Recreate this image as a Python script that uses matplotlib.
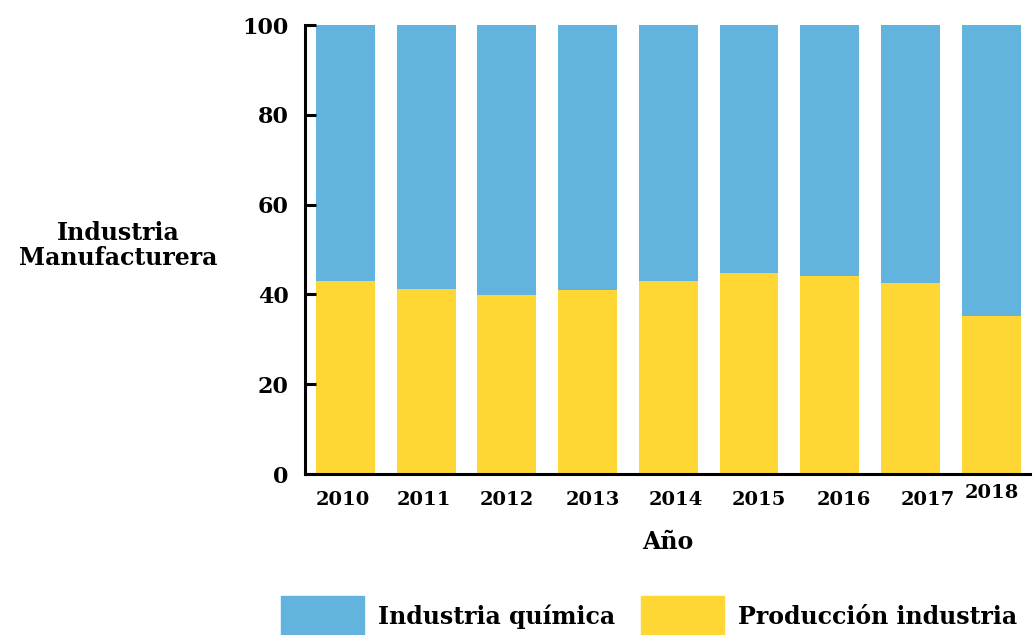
import matplotlib
matplotlib.use("Agg")
import matplotlib.pyplot as plt
import matplotlib.transforms as mtransforms
from matplotlib.patches import Patch

years = ["2010", "2011", "2012", "2013", "2014", "2015", "2016", "2017", "2018"]
produccion = [43.0, 41.2, 39.9, 41.0, 43.0, 44.8, 44.1, 42.5, 35.2]
quimica = [100 - p for p in produccion]

blue = "#62B3DD"
yellow = "#FED734"
font = "DejaVu Serif"

fig = plt.figure(figsize=(10.33, 6.35), dpi=100)
ax = fig.add_axes([0.2953, 0.2535, 0.7017, 0.7071])

x = list(range(len(years)))
ax.bar(x, produccion, width=0.73, color=yellow, label="Producción industria")
ax.bar(x, quimica, bottom=produccion, width=0.73, color=blue, label="Industria química")

ax.set_xlim(-0.5, 8.48)
ax.set_ylim(0, 100)
ax.set_yticks([0, 20, 40, 60, 80, 100])
ax.set_xticks(x)
ax.set_xticklabels(years)
for s in ["top", "right"]:
    ax.spines[s].set_visible(False)
for s in ["left", "bottom"]:
    ax.spines[s].set_linewidth(2.2)
ax.tick_params(axis="y", direction="in", length=8, width=2.2, pad=12)
ax.tick_params(axis="x", length=0, pad=12)
for lab in ax.get_yticklabels():
    lab.set_fontfamily(font)
    lab.set_fontweight("bold")
    lab.set_fontsize(16)
offsets = [(-3, 0), (-2, 0), (0, 0), (5, 0), (8, 0), (10, 0), (14, 0), (17, 0), (1, 7)]
for lab, (dx, dy) in zip(ax.get_xticklabels(), offsets):
    lab.set_fontfamily(font)
    lab.set_fontweight("bold")
    lab.set_fontsize(14)
    lab.set_transform(lab.get_transform() + mtransforms.ScaledTranslation(dx / 100, dy / 100, fig.dpi_scale_trans))

ax.set_xlabel("Año", fontfamily=font, fontweight="bold", fontsize=17, labelpad=15)
fig.text(0.114, 0.614, "Industria\nManufacturera", ha="center", va="center",
         fontfamily=font, fontweight="bold", fontsize=17, linespacing=1.05)

handles = [Patch(color=blue, label="Industria química"),
           Patch(color=yellow, label="Producción industria")]
fig.legend(handles=handles, loc="lower center", bbox_to_anchor=(0.6285, -0.035), ncol=2,
           frameon=False, prop={"family": font, "weight": "bold", "size": 17},
           handlelength=3.5, handleheight=2.2, handletextpad=0.6, columnspacing=1.1)

fig.savefig("out.png", dpi=100)
